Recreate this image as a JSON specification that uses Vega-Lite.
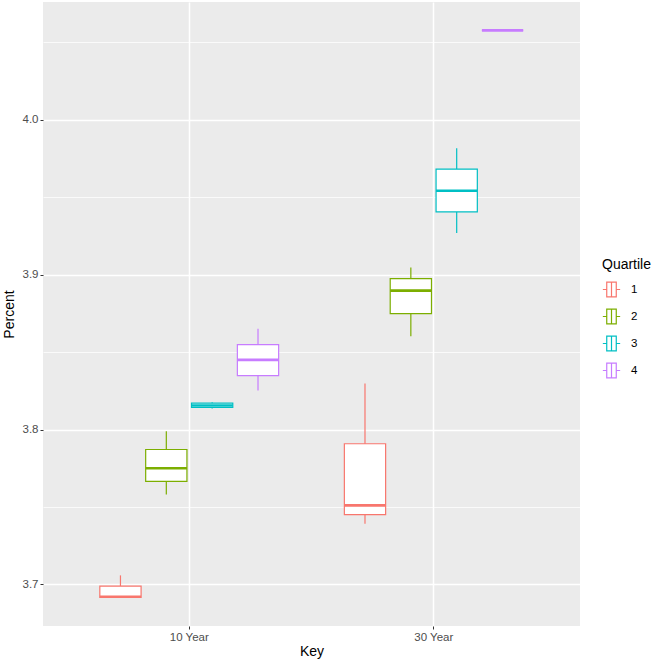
{
  "$schema": "https://vega.github.io/schema/vega-lite/v6.json",
  "width": 537,
  "height": 624,
  "autosize": {"type": "none"},
  "padding": {"left": 43, "top": 2, "right": 83, "bottom": 36},
  "config": {
    "font": "Liberation Sans",
    "view": {"fill": "#EBEBEB", "stroke": null},
    "axis": {"domain": false, "tickColor": "#333333", "tickSize": 3, "labelColor": "#4D4D4D", "labelFontSize": 11.5, "titleFontSize": 14, "titleFontWeight": "normal", "titleColor": "#000000", "gridColor": "#FFFFFF"}
  },
  "data": {"values": [
    {"key": "10 Year", "quartile": "1", "lower": 3.6916, "q1": 3.6916, "median": 3.6920, "q3": 3.6989, "upper": 3.7058},
    {"key": "10 Year", "quartile": "2", "lower": 3.7580, "q1": 3.7665, "median": 3.7750, "q3": 3.7871, "upper": 3.7989},
    {"key": "10 Year", "quartile": "3", "lower": 3.8135, "q1": 3.8142, "median": 3.8155, "q3": 3.8170, "upper": 3.8176},
    {"key": "10 Year", "quartile": "4", "lower": 3.8252, "q1": 3.8348, "median": 3.8450, "q3": 3.8548, "upper": 3.8650},
    {"key": "30 Year", "quartile": "1", "lower": 3.7392, "q1": 3.7450, "median": 3.7510, "q3": 3.7908, "upper": 3.8297},
    {"key": "30 Year", "quartile": "2", "lower": 3.8602, "q1": 3.8748, "median": 3.8897, "q3": 3.8974, "upper": 3.9047},
    {"key": "30 Year", "quartile": "3", "lower": 3.9269, "q1": 3.9405, "median": 3.9542, "q3": 3.9682, "upper": 3.9817},
    {"key": "30 Year", "quartile": "4", "lower": 4.0578, "q1": 4.0578, "median": 4.0578, "q3": 4.0578, "upper": 4.0578}
  ]},
  "encoding": {
    "x": {"field": "key", "type": "nominal", "title": "Key",
      "scale": {"paddingInner": 0.25, "paddingOuter": 0.223},
      "axis": {"labelAngle": 0, "grid": true, "gridWidth": 1.5, "labelPadding": 2, "titlePadding": 2}},
    "xOffset": {"field": "quartile", "type": "nominal", "scale": {"paddingInner": 0.1, "paddingOuter": 0.05}},
    "stroke": {"field": "quartile", "type": "nominal", "title": "Quartile",
      "scale": {"domain": ["1", "2", "3", "4"], "range": ["#F8766D", "#7CAE00", "#00BFC4", "#C77CFF"]},
      "legend": {"orient": "none", "legendX": 559, "legendY": 256, "titleFontSize": 14, "titleFontWeight": "normal", "titleColor": "#000000", "titlePadding": 8, "labelFontSize": 11.5, "labelColor": "#000000", "labelOffset": 10, "symbolSize": 300, "symbolType": "M-1,0H-0.55M0.55,0H1M-0.55,-0.85H0.55V0.85H-0.55ZM0,-0.85V0.85", "symbolFillColor": "#FFFFFF", "symbolStrokeWidth": 1.2, "rowPadding": 6}}
  },
  "layer": [
    {
      "mark": {"type": "rule", "strokeWidth": 1.2},
      "encoding": {
        "y": {"field": "lower", "type": "quantitative", "title": "Percent",
          "scale": {"domain": [3.6731, 4.0761], "nice": false, "zero": false},
          "axis": {"values": [3.7, 3.8, 3.9, 4.0], "format": ".1f", "grid": true, "gridWidth": 1.5, "labelPadding": 2, "titlePadding": 6}},
        "y2": {"field": "upper"}
      }
    },
    {
      "mark": {"type": "bar", "fill": "#FFFFFF", "strokeWidth": 1.2},
      "encoding": {
        "y": {"field": "q1", "type": "quantitative",
          "axis": {"orient": "right", "values": [3.75, 3.85, 3.95, 4.05], "grid": true, "gridWidth": 0.75, "labels": false, "ticks": false, "title": null}},
        "y2": {"field": "q3"}
      }
    },
    {
      "mark": {"type": "bar", "fill": null, "strokeWidth": 2.6},
      "encoding": {
        "y": {"field": "median", "type": "quantitative", "axis": null},
        "y2": {"field": "median"}
      }
    }
  ],
  "resolve": {"axis": {"y": "independent"}}
}
